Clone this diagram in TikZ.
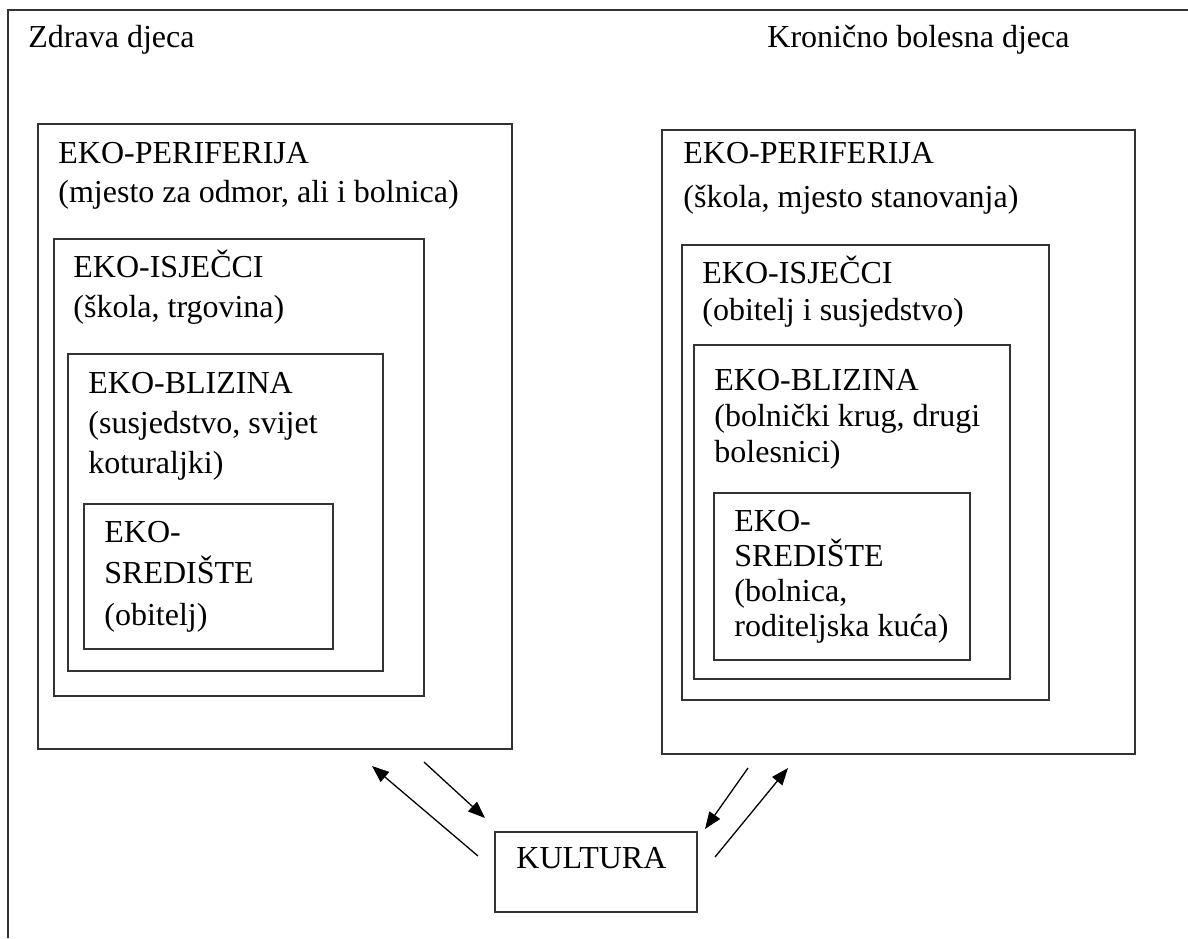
\documentclass[tikz,border=0pt]{standalone}
\usepackage{fontspec}
\setmainfont{Liberation Serif}
\usetikzlibrary{arrows.meta}
\begin{document}
\begin{tikzpicture}[x=0.5pt,y=-0.5pt,
  frame/.style={line width=0.8pt,draw=black!80},
  lbl/.style={anchor=base west,inner sep=0pt,align=left,font=\fontsize{16}{#1}\selectfont},
  arr/.style={line width=0.65pt,-{Triangle[length=8.5pt,width=6.5pt]}}]
  \useasboundingbox (0,0) rectangle (1188,938);
  \draw[frame] (8,938) -- (8,10) -- (1188,10);
  \node[lbl=18pt] (zdrava) at (28,47) {Zdrava djeca};
  \node[lbl=18pt] (kronicno) at (767,47) {Kronično bolesna djeca};
  \draw[frame] (38,124) rectangle (512,749);
  \draw[frame] (54,239) rectangle (424,696);
  \draw[frame] (68,354) rectangle (383,671);
  \draw[frame] (84,504) rectangle (333,649);
  \node[lbl=19.5pt] (lperif) at (58,202) {EKO-PERIFERIJA\\(mjesto za odmor, ali i bolnica)};
  \node[lbl=20pt] (lisj) at (73,317) {EKO-ISJEČCI\\(škola, trgovina)};
  \node[lbl=20pt] (lbliz) at (88,473) {EKO-BLIZINA\\(susjedstvo, svijet\\koturaljki)};
  \node[lbl=20.75pt] (lsred) at (104,625) {EKO-\\SREDIŠTE\\(obitelj)};
  \draw[frame] (662,130) rectangle (1135,754);
  \draw[frame] (682,245) rectangle (1049,700);
  \draw[frame] (694,345) rectangle (1010,679);
  \draw[frame] (714,493) rectangle (970,660);
  \node[lbl=22pt] (rperif) at (683,207) {EKO-PERIFERIJA\\(škola, mjesto stanovanja)};
  \node[lbl=18.5pt] (risj) at (702,320) {EKO-ISJEČCI\\(obitelj i susjedstvo)};
  \node[lbl=18pt] (rbliz) at (714,462) {EKO-BLIZINA\\(bolnički krug, drugi\\bolesnici)};
  \node[lbl=17.5pt] (rsred) at (734,636) {EKO-\\SREDIŠTE\\(bolnica,\\roditeljska kuća)};
  \draw[frame] (495,832) rectangle (697,912);
  \node[lbl=18pt] (kultura) at (516,868) {KULTURA};
  \coordinate (la1) at (478,856);
  \coordinate (la2) at (372,766);
  \coordinate (lb1) at (424,762);
  \coordinate (lb2) at (485,818);
  \coordinate (ra1) at (748,768);
  \coordinate (ra2) at (705,829);
  \coordinate (rb1) at (715,857);
  \coordinate (rb2) at (788,768);
  \draw[arr] (la1) -- (la2);
  \draw[arr] (lb1) -- (lb2);
  \draw[arr] (ra1) -- (ra2);
  \draw[arr] (rb1) -- (rb2);
\end{tikzpicture}
\end{document}
